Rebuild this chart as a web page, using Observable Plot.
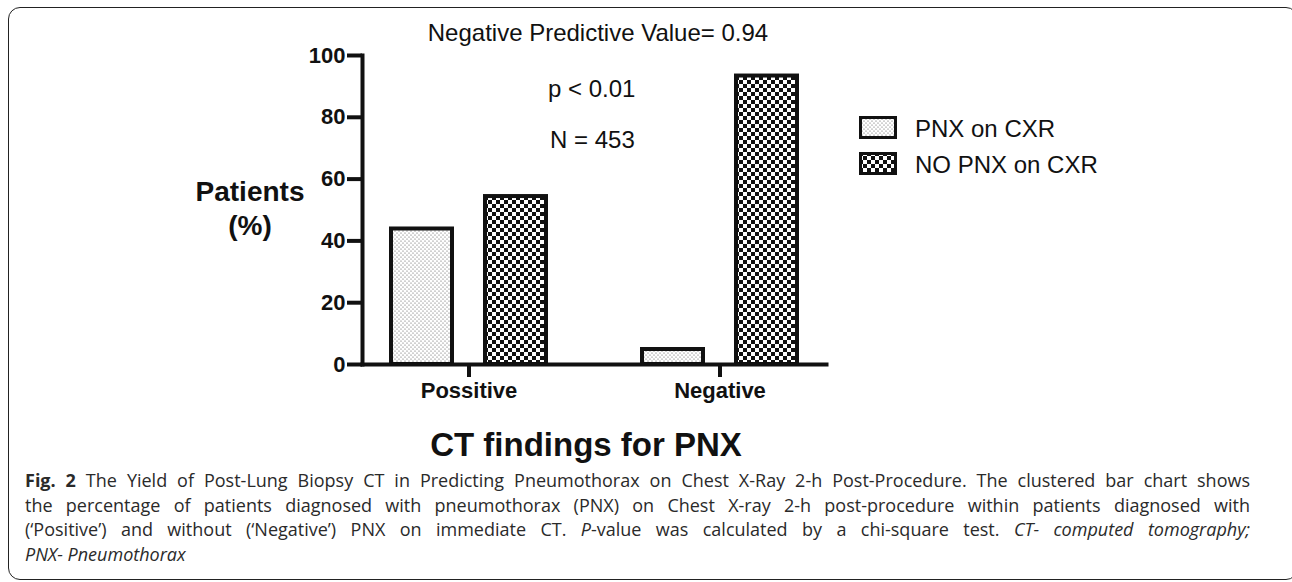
<!DOCTYPE html>
<html><head><meta charset="utf-8">
<script src="https://cdn.jsdelivr.net/npm/d3@7"></script>
<script src="https://cdn.jsdelivr.net/npm/@observablehq/plot@0.6"></script>
<style>
html,body{margin:0;padding:0;background:#fff;}
body{width:1292px;height:582px;position:relative;overflow:hidden;font-family:"Liberation Sans",Arial,sans-serif;color:#111;}
#box{position:absolute;left:8px;top:7px;width:1290px;height:573px;border:1.5px solid #222;border-radius:12px;box-sizing:border-box;}
#chart{position:absolute;left:0;top:0;}
.ov{position:absolute;white-space:nowrap;line-height:1;color:#111;}
#caption{position:absolute;left:25px;top:468px;width:1225px;font-family:"Open Sans",sans-serif;font-size:18px;line-height:24.7px;color:#2a2a2a;}
#caption div{white-space:nowrap;}
#caption .j{text-align:justify;text-align-last:justify;}
</style></head><body>
<div id="box"></div>
<div id="chart"></div>
<div id="caption">
<div class="j"><b>Fig. 2</b> The Yield of Post-Lung Biopsy CT in Predicting Pneumothorax on Chest X-Ray 2-h Post-Procedure. The clustered bar chart shows</div>
<div class="j">the percentage of patients diagnosed with pneumothorax (PNX) on Chest X-ray 2-h post-procedure within patients diagnosed with</div>
<div class="j">(‘Positive’) and without (‘Negative’) PNX on immediate CT. <i>P</i>-value was calculated by a chi-square test. <i>CT- computed tomography;</i></div>
<div><i>PNX- Pneumothorax</i></div>
</div>
<script>
// ---- data ----
const groups = ["Possitive", "Negative"];
const series = ["PNX on CXR", "NO PNX on CXR"];
const pnxOnCxr = [44.5, 5.5];
const noPnxOnCxr = [55, 94];
const yTicks = [0, 20, 40, 60, 80, 100];
const titleText = "Negative Predictive Value= 0.94";
const annotations = ["p < 0.01", "N = 453"];
const yLabel = ["Patients", "(%)"];
const xLabel = "CT findings for PNX";

const data = groups.flatMap((g, i) => [
  {group: g, series: series[0], value: pnxOnCxr[i]},
  {group: g, series: series[1], value: noPnxOnCxr[i]}
]);

const FONT = "'Liberation Sans', Arial, sans-serif";

const plot = Plot.plot({
  width: 1292, height: 420,
  marginLeft: 362, marginRight: 466, marginTop: 55, marginBottom: 56,
  style: {fontFamily: FONT, color: "#111", background: "transparent", overflow: "visible"},
  fx: {domain: groups, paddingInner: 0.1514, paddingOuter: 0, label: null, axis: null},
  x: {domain: series, paddingInner: 0.3085, paddingOuter: 0.287, axis: null},
  y: {domain: [0, 100], axis: null},
  color: {domain: series, range: ["url(#pat-dots)", "url(#pat-checks)"]},
  marks: [
    Plot.barY(data, {fx: "group", x: "series", y: "value", fill: "series",
      stroke: "#111", strokeWidth: 4, insetLeft: 2, insetRight: 2, insetTop: 2}),
    Plot.frame({anchor: "bottom", facet: "super", stroke: "#111", strokeWidth: 4, strokeLinecap: "square"}),
    Plot.frame({anchor: "left", facet: "super", stroke: "#111", strokeWidth: 4, strokeLinecap: "square"}),
    Plot.axisY({ticks: yTicks, tickSize: 15, tickPadding: 2, strokeWidth: 4,
      fontSize: 22, fontWeight: "bold", label: null, tickFormat: d => String(d)}),
    Plot.axisFx({anchor: "bottom", tickSize: 13, tickPadding: 5, strokeWidth: 4, fontSize: 22,
      fontWeight: "bold", label: null})
  ]
});

// patterns
const svg = d3.select(plot);
const defs = svg.insert("defs", ":first-child");
const dots = defs.append("pattern").attr("id", "pat-dots")
  .attr("patternUnits", "userSpaceOnUse").attr("width", 4).attr("height", 4);
dots.append("rect").attr("width", 4).attr("height", 4).attr("fill", "#fff");
dots.append("circle").attr("cx", 1).attr("cy", 1).attr("r", 0.6).attr("fill", "#555");
dots.append("circle").attr("cx", 3).attr("cy", 3).attr("r", 0.6).attr("fill", "#555");
const checks = defs.append("pattern").attr("id", "pat-checks")
  .attr("patternUnits", "userSpaceOnUse").attr("width", 8).attr("height", 8);
checks.append("rect").attr("width", 8).attr("height", 8).attr("fill", "#fff");
checks.append("rect").attr("width", 4).attr("height", 4).attr("fill", "#111");
checks.append("rect").attr("x", 4).attr("y", 4).attr("width", 4).attr("height", 4).attr("fill", "#111");

document.getElementById("chart").appendChild(plot);

// overlays
function place(text, x, baseline, size, opts = {}) {
  const el = document.createElement("div");
  el.className = "ov";
  el.textContent = text;
  el.style.fontSize = size + "px";
  el.style.fontFamily = opts.family || FONT;
  if (opts.bold) el.style.fontWeight = "bold";
  el.style.top = (baseline - 0.8465 * size) + "px";
  document.body.appendChild(el);
  const w = el.getBoundingClientRect().width;
  const left = opts.anchor === "middle" ? x - w / 2 : opts.anchor === "end" ? x - w : x;
  el.style.left = left + "px";
  return el;
}
place(titleText, 598, 41, 24, {anchor: "middle"});
place(annotations[0], 548, 97, 24);
place(annotations[1], 550, 148, 24);
place(yLabel[0], 250, 202, 28, {anchor: "middle", bold: true});
place(yLabel[1], 250, 236, 28, {anchor: "middle", bold: true});
place(xLabel, 586, 456, 33, {anchor: "middle", bold: true});

// legend
const legendTops = [116, 152];
series.forEach((s, i) => {
  const sw = document.createElementNS("http://www.w3.org/2000/svg", "svg");
  sw.setAttribute("width", 38); sw.setAttribute("height", 23);
  sw.style.position = "absolute"; sw.style.left = "859px"; sw.style.top = legendTops[i] + "px";
  const r = document.createElementNS("http://www.w3.org/2000/svg", "rect");
  r.setAttribute("x", 1.5); r.setAttribute("y", 1.5); r.setAttribute("width", 35); r.setAttribute("height", 20);
  r.setAttribute("fill", i === 0 ? "url(#pat-dots)" : "url(#pat-checks)");
  r.setAttribute("stroke", "#111"); r.setAttribute("stroke-width", 3);
  sw.appendChild(r);
  document.body.appendChild(sw);
  place(s, 915, legendTops[i] + 21, 24);
});
</script>
</body></html>
